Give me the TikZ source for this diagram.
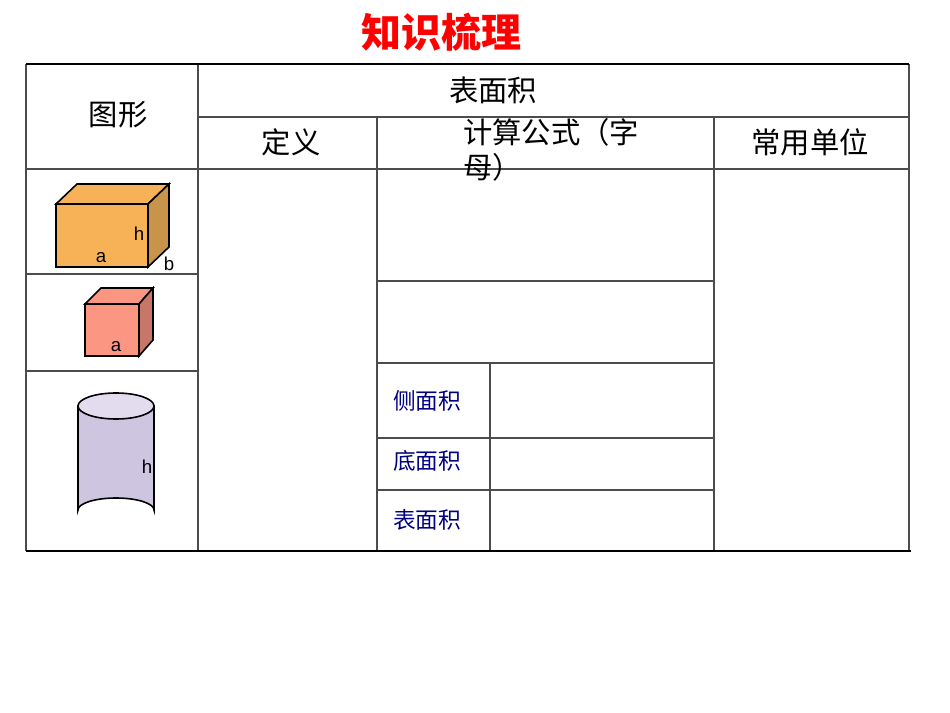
\documentclass[tikz,border=0pt]{standalone}
\usepackage{fontspec}
\newfontfamily\cjk{Noto Sans CJK SC}
\setmainfont{Liberation Sans}
\begin{document}
\begin{tikzpicture}[x=0.75pt,y=-0.75pt,
  thin/.style={draw=black!70,line width=0.8pt},
  thick/.style={draw=black,line width=1.8pt},
  hdr/.style={font=\cjk\fontsize{22}{26}\selectfont},
  blu/.style={font=\cjk\fontsize{17}{20}\selectfont,text=blue!50!black},
  lbl/.style={font=\fontsize{14}{16}\selectfont,inner sep=0pt}]
\useasboundingbox (0,0) rectangle (950,713);
% table lines
\draw[thin] (26,64) -- (26,551) (909,64) -- (909,551);
\draw[thin] (198,64) -- (198,551) (377,117) -- (377,551) (714,117) -- (714,551);
\draw[thin] (198,117) -- (909,117) (26,169) -- (909,169);
\draw[thin] (26,274) -- (198,274) (26,371) -- (198,371);
\draw[thin] (377,281) -- (714,281) (377,363) -- (714,363) (377,438) -- (714,438) (377,490) -- (714,490);
\draw[thin] (490,363) -- (490,551);
\draw[thick] (26,64) -- (909,64);
\draw[thick] (26,551) -- (911,551);
% texts
\node[font=\cjk\bfseries\fontsize{30}{34}\selectfont,text=red] (title) at (441,32) {知识梳理};
\node[hdr] (tx) at (118,115) {图形};
\node[hdr] (bm) at (493,90) {表面积};
\node[hdr] (dy) at (291,142) {定义};
\node[hdr,align=left,anchor=north west,inner sep=0pt] (js) at (463,118) {计算公式（字\\母）};
\node[hdr] (cy) at (810,142) {常用单位};
\node[blu] (c1) at (427,401) {侧面积};
\node[blu] (c2) at (427,461) {底面积};
\node[blu] (c3) at (427,520) {表面积};
% cuboid
\draw[line width=1.2pt,fill={rgb,255:red,247;green,178;blue,88}] (56,204) -- (77,184) -- (169,184) -- (148,204) -- cycle;
\draw[line width=1.2pt,fill={rgb,255:red,200;green,148;blue,74}] (148,204) -- (169,184) -- (169,247) -- (148,267) -- cycle;
\draw[line width=1.2pt,fill={rgb,255:red,247;green,178;blue,88}] (56,204) rectangle (148,267);
\node[lbl] (h1) at (139,234) {h};
\node[lbl] (a1) at (101,258) {a};
\node[lbl] (b1) at (169,264) {b};
% cube
\draw[line width=1.2pt,fill={rgb,255:red,250;green,150;blue,130}] (85,304) -- (101,288) -- (153,288) -- (139,304) -- cycle;
\draw[line width=1.2pt,fill={rgb,255:red,200;green,118;blue,104}] (139,304) -- (153,288) -- (153,340) -- (139,356) -- cycle;
\draw[line width=1.2pt,fill={rgb,255:red,250;green,150;blue,130}] (85,304) rectangle (139,356);
\node[lbl] (a2) at (116,347) {a};
% cylinder
\draw[line width=1.2pt,fill={rgb,255:red,206;green,198;blue,224}] (78,406) -- (78,510) arc[start angle=180,end angle=360,x radius=38,y radius=12] -- (154,406) -- cycle;
\draw[line width=1.2pt,fill={rgb,255:red,226;green,220;blue,238}] (116,406) ellipse[x radius=38,y radius=13];
\node[lbl] (h3) at (147,467) {h};
\end{tikzpicture}
\end{document}
